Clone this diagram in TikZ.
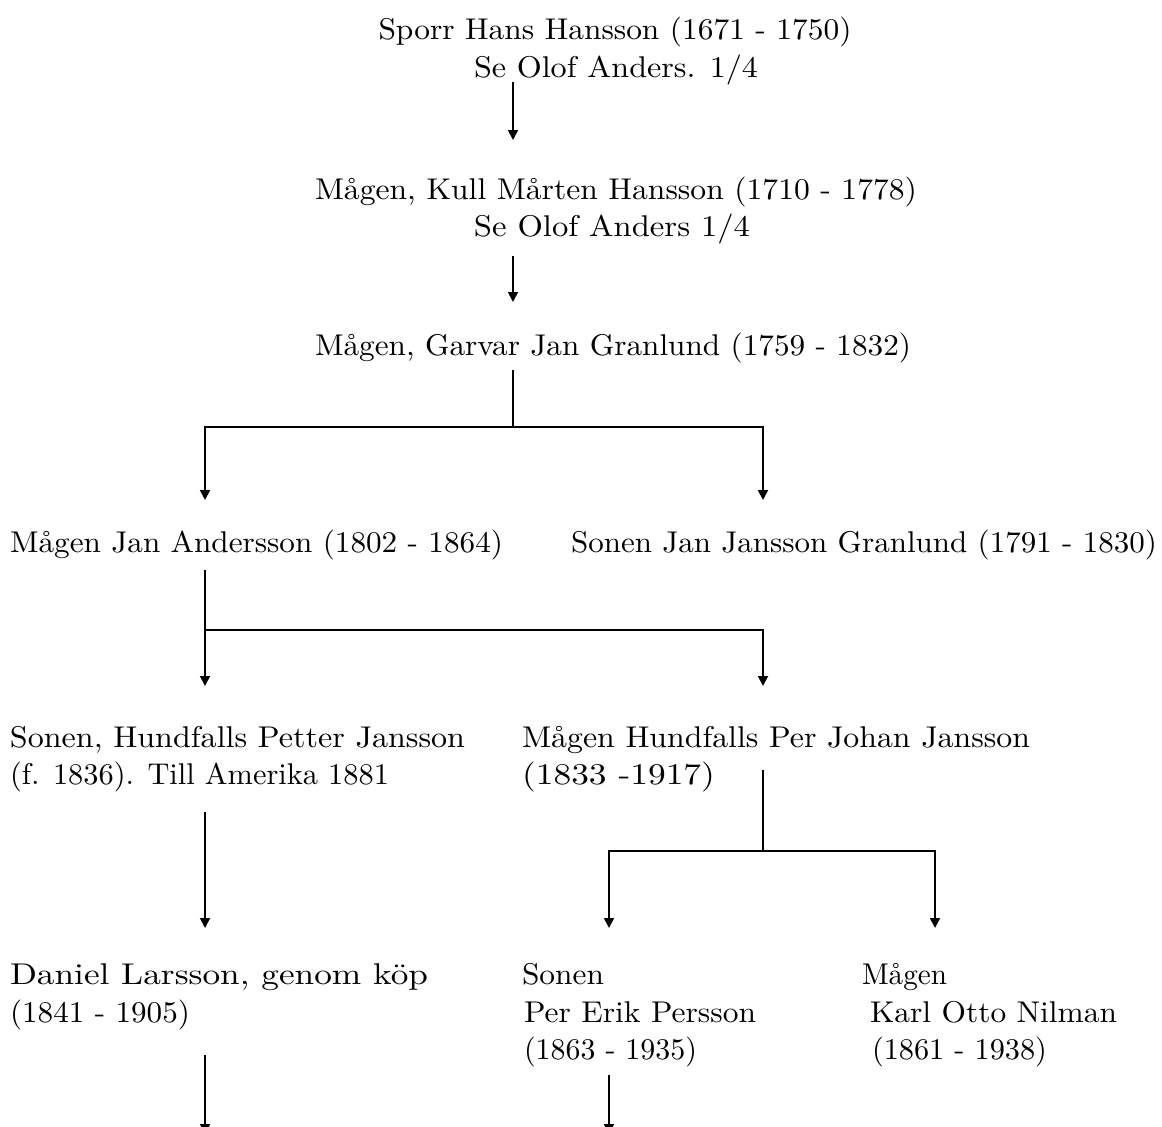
\documentclass[tikz,border=0pt]{standalone}
\usetikzlibrary{arrows.meta}
\usepackage{graphicx}
\usepackage{fontspec}
\setmainfont{lmroman10-regular.otf}
\newcommand\fw[2]{\resizebox{#1pt}{\height}{#2}}
\tikzset{
  txt/.style={inner sep=0pt, outer sep=0pt, font=\fontsize{30}{36}\selectfont},
  lw/.style={anchor=base west},
  lc/.style={anchor=base},
  link/.style={line width=1.8pt, line join=miter},
  arr/.style={link, -{Triangle[length=10pt,width=10pt]}}
}
\begin{document}
\begin{tikzpicture}[x=1pt,y=-1pt]
\useasboundingbox (0,0) rectangle (1162,1127);
\clip (0,0) rectangle (1162,1127);
% texts
\node[txt,lc] (hans1) at (615,39) {\fw{473}{Sporr Hans Hansson (1671 - 1750)}};
\node[txt,lc] (hans2) at (616,77) {\fw{284}{Se Olof Anders. 1/4}};
\node[txt,lc] (kull1) at (616,199) {\fw{602}{Mågen, Kull Mårten Hansson (1710 - 1778)}};
\node[txt,lc] (kull2) at (612,236) {\fw{276}{Se Olof Anders 1/4}};
\node[txt,lc] (garv) at (613,355) {\fw{596}{Mågen, Garvar Jan Granlund (1759 - 1832)}};
\node[txt,lw] (jan) at (10,552) {\fw{493}{Mågen Jan Andersson (1802 - 1864)}};
\node[txt,lw] (sonj) at (571,552) {\fw{586}{Sonen Jan Jansson Granlund (1791 - 1830)}};
\node[txt,lw] (pet1) at (10,747) {\fw{455}{Sonen, Hundfalls Petter Jansson}};
\node[txt,lw] (pet2) at (10,784) {\fw{379}{(f. 1836). Till Amerika 1881}};
\node[txt,lw] (pj1) at (522,747) {\fw{508}{Mågen Hundfalls Per Johan Jansson}};
\node[txt,lw] (pj2) at (522,784) {\fw{193}{(1833 -1917)}};
\node[txt,lw] (dan1) at (10,984) {\fw{418}{Daniel Larsson, genom köp}};
\node[txt,lw] (dan2) at (10,1022) {\fw{180}{(1841 - 1905)}};
\node[txt,lw] (pe1) at (522,984) {\fw{82}{Sonen}};
\node[txt,lw] (pe2) at (524,1022) {\fw{232}{Per Erik Persson}};
\node[txt,lw] (pe3) at (524,1059) {\fw{173}{(1863 - 1935)}};
\node[txt,lw] (ko1) at (862,984) {\fw{85}{Mågen}};
\node[txt,lw] (ko2) at (870,1022) {\fw{247}{Karl Otto Nilman}};
\node[txt,lw] (ko3) at (872,1059) {\fw{175}{(1861 - 1938)}};
% connector points
\coordinate (a1s) at (513,82);   \coordinate (a1e) at (513,140);
\coordinate (a2s) at (513,256);  \coordinate (a2e) at (513,302);
\coordinate (b1s) at (513,370);  \coordinate (b1j) at (513,427);
\coordinate (b1l) at (205,427);  \coordinate (b1r) at (763,427);
\coordinate (b1le) at (205,500); \coordinate (b1re) at (763,500);
\coordinate (c1s) at (205,570);  \coordinate (c1j) at (205,630);
\coordinate (c1r) at (763,630);
\coordinate (c1le) at (205,686); \coordinate (c1re) at (763,686);
\coordinate (d1s) at (205,812);  \coordinate (d1e) at (205,928);
\coordinate (e1s) at (763,770);  \coordinate (e1j) at (763,851);
\coordinate (e1l) at (609,851);  \coordinate (e1r) at (935,851);
\coordinate (e1le) at (609,928); \coordinate (e1re) at (935,928);
\coordinate (f1s) at (205,1055); \coordinate (f1e) at (205,1134);
\coordinate (g1s) at (609,1075); \coordinate (g1e) at (609,1134);
% connectors
\draw[arr] (a1s) -- (a1e);
\draw[arr] (a2s) -- (a2e);
\draw[link] (b1s) -- (b1j);
\draw[arr] (b1j) -- (b1l) -- (b1le);
\draw[arr] (b1j) -- (b1r) -- (b1re);
\draw[arr] (c1s) -- (c1le);
\draw[arr] (c1j) -- (c1r) -- (c1re);
\draw[arr] (d1s) -- (d1e);
\draw[link] (e1s) -- (e1j);
\draw[arr] (e1j) -- (e1l) -- (e1le);
\draw[arr] (e1j) -- (e1r) -- (e1re);
\draw[arr] (f1s) -- (f1e);
\draw[arr] (g1s) -- (g1e);
\end{tikzpicture}
\end{document}
